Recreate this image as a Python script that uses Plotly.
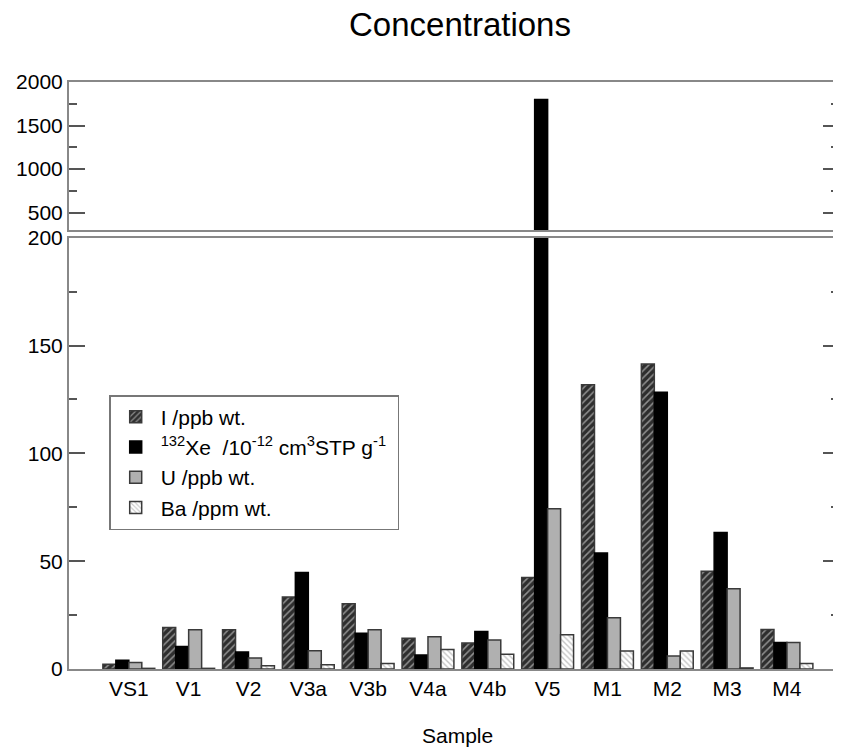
import plotly.graph_objects as go

samples = ['VS1', 'V1', 'V2', 'V3a', 'V3b', 'V4a', 'V4b', 'V5', 'M1', 'M2', 'M3', 'M4']
iodine = [2.2, 19.3, 18.2, 33.4, 30.2, 14.3, 12.1, 42.4, 131.8, 141.4, 45.3, 18.3]
xenon = [4.0, 10.4, 7.9, 44.8, 16.6, 6.5, 17.4, 1800, 53.8, 128.3, 63.3, 12.3]
uranium = [3.0, 18.2, 5.1, 8.5, 18.2, 14.9, 13.4, 74.3, 23.8, 6.0, 37.2, 12.3]
barium = [0.3, 0.3, 1.5, 2.0, 2.6, 9.1, 6.8, 15.9, 8.3, 8.3, 0.5, 2.6]

names = ['I /ppb wt.',
         '<sup>132</sup>Xe&nbsp; /10<sup>-12</sup> cm<sup>3</sup>STP g<sup>-1</sup>&nbsp;',
         'U /ppb wt.',
         'Ba /ppm wt.']
series = [iodine, xenon, uranium, barium]

FONT = 'Liberation Sans, Arial, sans-serif'
OUT = '#3a3a3a'


def marker_for(i):
    if i == 0:
        return dict(color='#2e2e2e', line=dict(color=OUT, width=1.5),
                    pattern=dict(shape='/', fgcolor='#f2f2f2', bgcolor='#2e2e2e',
                                 size=5, solidity=0.3))
    if i == 1:
        return dict(color='black', line=dict(color='black', width=1.5))
    if i == 2:
        return dict(color='#b0b0b0', line=dict(color=OUT, width=1.5))
    return dict(color='white', line=dict(color=OUT, width=1.5),
                pattern=dict(shape='\\', fgcolor='#8c8c8c', bgcolor='white',
                             size=4, solidity=0.35))


fig = go.Figure()
for i, (nm, vals) in enumerate(zip(names, series)):
    fig.add_trace(go.Bar(x=samples, y=vals, name=nm, marker=marker_for(i),
                         xaxis='x', yaxis='y'))
for i, (nm, vals) in enumerate(zip(names, series)):
    fig.add_trace(go.Bar(x=samples, y=vals, name=nm, marker=marker_for(i),
                         xaxis='x2', yaxis='y2', showlegend=False))

# page body has an 8px margin: figure coords = screen coords - 8
OFF = 8
W, H = 841 - OFF, 751 - OFF
L, T = 69 - OFF, 82 - OFF
PB = 669 - OFF            # plot bottom (figure px)
B = H - PB
PW = W - L
PH = PB - T
y_bot_top = 237.7 - OFF
y_top_bot = 230.0 - OFF


def px_x(sx):
    return (sx - OFF - L) / PW


def px_y(sy):
    return (PB - (sy - OFF)) / PH


axis_common = dict(showline=True, linecolor='#888888', linewidth=2,
                   showgrid=False, zeroline=False,
                   tickfont=dict(family=FONT, size=21, color='black'))

fig.update_layout(
    width=W, height=H, autosize=False,
    paper_bgcolor='white', plot_bgcolor='white',
    margin=dict(l=L, r=0, t=T, b=B, pad=0),
    barmode='group', bargap=0.133, bargroupgap=0.0,
    font=dict(family=FONT, size=21, color='black'),
    title=dict(text='Concentrations', font=dict(family=FONT, size=33, color='black'),
               x=(460 - OFF) / W, xanchor='center', xref='container',
               y=1 - 5 / H, yanchor='top', yref='container'),
    xaxis=dict(axis_common, type='category', range=[-1, 11.87], mirror=True,
               ticks='', anchor='y', domain=[0, 1]),
    xaxis2=dict(axis_common, type='category', range=[-1, 11.87], mirror=True,
                ticks='', showticklabels=False, anchor='y2', matches='x',
                domain=[0, 1]),
    yaxis=dict(axis_common, range=[0, 200], domain=[0, (PB - y_bot_top) / PH],
               tick0=0, dtick=50, ticks='inside', ticklen=16, tickwidth=1.5,
               tickcolor='#555555', mirror='ticks', anchor='x',
               minor=dict(dtick=25, ticks='inside', ticklen=8, tickwidth=1.5,
                          tickcolor='#555555', showgrid=False)),
    yaxis2=dict(axis_common, range=[300, 2000], domain=[(PB - y_top_bot) / PH, 1],
                tick0=0, dtick=500, ticks='inside', ticklen=16, tickwidth=1.5,
                tickcolor='#555555', mirror='ticks', anchor='x2',
                minor=dict(dtick=250, ticks='inside', ticklen=8, tickwidth=1.5,
                           tickcolor='#555555', showgrid=False)),
    legend=dict(x=px_x(109.3), y=px_y(395), xanchor='left', yanchor='top',
                bordercolor='#777777', borderwidth=1.5, bgcolor='white',
                font=dict(family=FONT, size=21, color='black'),
                itemwidth=40),
    annotations=[dict(text='Sample', xref='paper', yref='paper',
                      x=px_x(459), y=px_y(735.5),
                      xanchor='center', yanchor='middle', showarrow=False,
                      font=dict(family=FONT, size=21, color='black'))],
)

fig.write_html('out.html')
